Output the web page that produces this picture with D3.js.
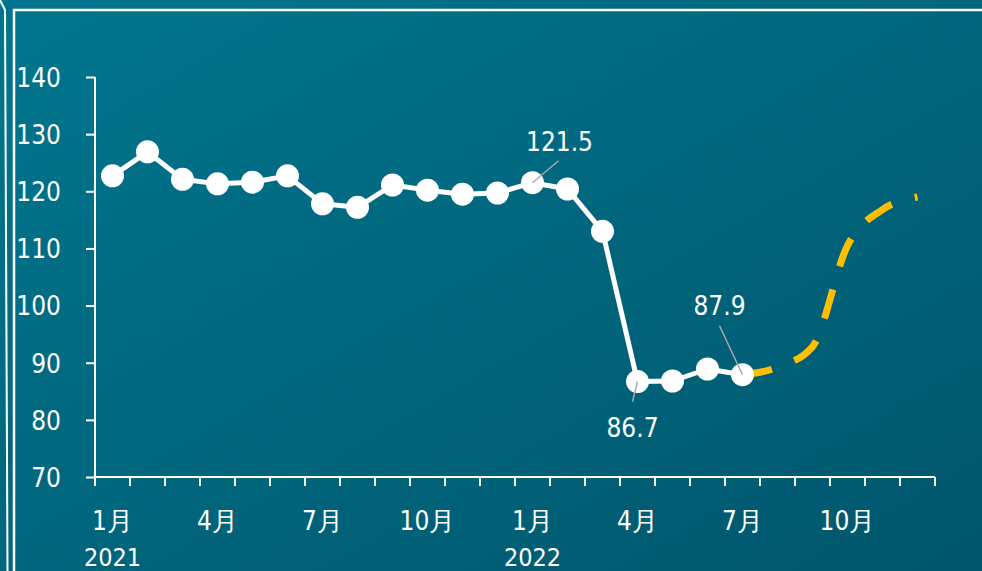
<!DOCTYPE html>
<html>
<head>
<meta charset="utf-8">
<script src="https://cdn.jsdelivr.net/npm/d3@7"></script>
<style>
    html, body { margin: 0; padding: 0; background: #00657c; }
    #chart text { font-family: "Liberation Sans Narrow", "DejaVu Sans Condensed", sans-serif; fill: #ffffff; }
</style>
</head>
<body>
<div id="chart"></div>
<script>
// monthly index, Jan 2021 .. Jul 2022 (actual)
var months = ["2021-01", "2021-02", "2021-03", "2021-04", "2021-05", "2021-06",
    "2021-07", "2021-08", "2021-09", "2021-10", "2021-11", "2021-12",
    "2022-01", "2022-02", "2022-03", "2022-04", "2022-05", "2022-06",
    "2022-07", "2022-08", "2022-09", "2022-10", "2022-11", "2022-12"];
var actualValues = [122.7, 126.9, 122.1, 121.3, 121.6, 122.7, 117.8, 117.2, 121.1, 120.2, 119.5, 119.7,
    121.5, 120.4, 113.0, 86.7, 86.8, 88.9, 87.9];
// forecast, Jul 2022 .. Dec 2022
var forecastMonths = ["2022-07", "2022-08", "2022-09", "2022-10", "2022-11", "2022-12"];
var forecastValues = [87.9, 89.2, 92.8, 110.5, 116.8, 119.0];
var yTicks = [70, 80, 90, 100, 110, 120, 130, 140];
var monthLabels = { "2021-01": "1月", "2021-04": "4月", "2021-07": "7月", "2021-10": "10月",
    "2022-01": "1月", "2022-04": "4月", "2022-07": "7月", "2022-10": "10月" };
var yearLabels = { "2021-01": "2021", "2022-01": "2022" };
// labelled points: month, text, label position offset, leader end
var callouts = [
    { month: "2022-01", text: "121.5", dx: 27, dy: -32, lx: 26, ly: -22 },
    { month: "2022-04", text: "86.7", dx: -5, dy: 55, lx: -5, ly: 20 },
    { month: "2022-07", text: "87.9", dx: -23, dy: -60, lx: -23, ly: -49 }
];

var width = 982, height = 571;
var margin = { top: 77, right: 47, bottom: 94, left: 95 };

var svg = d3.select("#chart")
    .append("svg")
    .attr("width", width)
    .attr("height", height);

// background gradient
var defs = svg.append("defs");
var grad = defs.append("linearGradient")
    .attr("id", "bg")
    .attr("x1", "0").attr("y1", "0")
    .attr("x2", "1").attr("y2", "1");
grad.append("stop").attr("offset", "0%").attr("stop-color", "#00768e");
grad.append("stop").attr("offset", "100%").attr("stop-color", "#00566c");
svg.append("rect")
    .attr("width", width)
    .attr("height", height)
    .attr("fill", "url(#bg)");

// frame lines
svg.append("path")
    .attr("d", "M0,0 L5,10 L7.5,571")
    .attr("fill", "none")
    .attr("stroke", "#ffffff")
    .attr("stroke-width", 2);
svg.append("path")
    .attr("d", "M14,571 L14,10 L982,10")
    .attr("fill", "none")
    .attr("stroke", "#ffffff")
    .attr("stroke-width", 2.5);

var x = d3.scaleBand()
    .domain(months)
    .range([margin.left, width - margin.right])
    .paddingInner(0)
    .paddingOuter(0);
var y = d3.scaleLinear()
    .domain([70, 140])
    .range([height - margin.bottom, margin.top]);

function cx(m) { return x(m) + x.bandwidth() / 2; }

var g = svg.append("g");

// y axis
var yAxis = g.append("g")
    .attr("transform", "translate(" + margin.left + ",0)")
    .call(d3.axisLeft(y).tickValues(yTicks).tickSize(9).tickPadding(25).tickSizeOuter(0));
yAxis.select(".domain")
    .attr("d", "M0," + y(140) + "V" + (y(70) + 9))
    .attr("stroke", "#ffffff")
    .attr("stroke-width", 2);
yAxis.selectAll(".tick line").attr("stroke", "#ffffff").attr("stroke-width", 2);
yAxis.selectAll(".tick text")
    .attr("font-size", 26)
    .attr("dy", "0.36em")
    .attr("fill", "#ffffff");

// x axis: ticks on month boundaries
var boundaries = months.map(function (m) { return x(m); }).concat([x(months[months.length - 1]) + x.bandwidth()]);
var xAxis = g.append("g");
xAxis.append("line")
    .attr("x1", margin.left)
    .attr("x2", boundaries[boundaries.length - 1])
    .attr("y1", y(70))
    .attr("y2", y(70))
    .attr("stroke", "#ffffff")
    .attr("stroke-width", 2);
xAxis.selectAll(".xtick")
    .data(boundaries)
    .enter()
    .append("line")
    .attr("class", "xtick")
    .attr("x1", function (d) { return d; })
    .attr("x2", function (d) { return d; })
    .attr("y1", y(70))
    .attr("y2", y(70) + 9)
    .attr("stroke", "#ffffff")
    .attr("stroke-width", 2);
xAxis.selectAll(".mlabel")
    .data(months.filter(function (m) { return monthLabels[m]; }))
    .enter()
    .append("text")
    .attr("class", "mlabel")
    .attr("x", function (m) { return cx(m); })
    .attr("y", y(70) + 53)
    .attr("text-anchor", "middle")
    .attr("font-size", 26)
    .text(function (m) { return monthLabels[m]; });
xAxis.selectAll(".ylabel")
    .data(months.filter(function (m) { return yearLabels[m]; }))
    .enter()
    .append("text")
    .attr("class", "ylabel")
    .attr("x", function (m) { return cx(m); })
    .attr("y", y(70) + 89)
    .attr("text-anchor", "middle")
    .attr("font-size", 25)
    .text(function (m) { return yearLabels[m]; });

// forecast dashed curve
var forecast = forecastMonths.map(function (m, i) { return { x: cx(m), y: y(forecastValues[i]) }; });
var curveLine = d3.line()
    .x(function (d) { return d.x; })
    .y(function (d) { return d.y; })
    .curve(d3.curveMonotoneX);
g.append("path")
    .attr("d", curveLine(forecast))
    .attr("fill", "none")
    .attr("stroke", "#ffbf00")
    .attr("stroke-width", 7)
    .attr("stroke-dasharray", "30,24");

// actual line
var actual = actualValues.map(function (v, i) { return { x: cx(months[i]), y: y(v) }; });
var line = d3.line()
    .x(function (d) { return d.x; })
    .y(function (d) { return d.y; });
g.append("path")
    .attr("d", line(actual))
    .attr("fill", "none")
    .attr("stroke", "#ffffff")
    .attr("stroke-width", 5)
    .attr("stroke-linejoin", "round");
g.selectAll(".dot")
    .data(actual)
    .enter()
    .append("circle")
    .attr("class", "dot")
    .attr("cx", function (d) { return d.x; })
    .attr("cy", function (d) { return d.y; })
    .attr("r", 11.5)
    .attr("fill", "#ffffff");

// callouts
callouts.forEach(function (c) {
    var px = cx(c.month);
    var py = y(actualValues[months.indexOf(c.month)]);
    g.append("line")
        .attr("x1", px)
        .attr("y1", py)
        .attr("x2", px + c.lx)
        .attr("y2", py + c.ly)
        .attr("stroke", "#a8a8a8")
        .attr("stroke-width", 1.5);
    g.append("text")
        .attr("x", px + c.dx)
        .attr("y", py + c.dy)
        .attr("text-anchor", "middle")
        .attr("font-size", 26)
        .text(c.text);
});
</script>
</body>
</html>
